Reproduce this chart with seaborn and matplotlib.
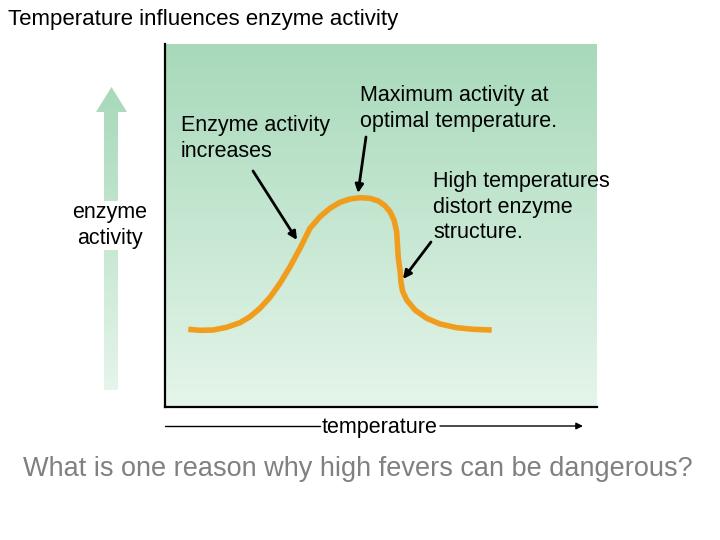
import numpy as np
import pandas as pd
import seaborn as sns
import matplotlib.pyplot as plt
from matplotlib.colors import LinearSegmentedColormap
from matplotlib.patches import Polygon

# curve (temperature / activity, arbitrary 0-100 units)
temperature = [5.39, 8.10, 11.18, 14.28, 17.36, 19.68, 21.99, 24.31, 26.62, 28.94, 31.25, 33.56,
               35.88, 38.19, 40.51, 42.82, 45.14, 47.45, 49.38, 50.93, 52.08, 53.01, 53.63, 53.82,
               54.00, 54.40, 54.63, 54.98, 55.95, 57.87, 60.58, 63.66, 67.52, 71.37, 75.63]
activity = [21.40, 21.13, 21.21, 21.96, 23.22, 24.88, 27.19, 30.22, 34.08, 38.65, 43.72, 49.23,
            52.42, 54.74, 56.39, 57.30, 57.66, 57.49, 56.75, 55.45, 53.80, 51.52, 48.29, 44.63,
            41.05, 37.74, 34.44, 31.96, 29.48, 26.72, 24.44, 22.87, 21.85, 21.40, 21.21]

title = "Temperature influences enzyme activity"
notes = ["Enzyme activity\nincreases",
         "Maximum activity at\noptimal temperature.",
         "High temperatures\ndistort enzyme\nstructure."]
question = "What is one reason why high fevers can be dangerous?"

sns.set_style("white")
plt.rcParams['font.family'] = ['Liberation Sans', 'DejaVu Sans']
plt.rcParams['text.color'] = 'black'

W, H = 720, 540
fs = 15.5
fig = plt.figure(figsize=(7.2, 5.4), dpi=100)

# main panel
ax = fig.add_axes([165 / W, 1 - 407 / H, 432 / W, 363 / H])
green = LinearSegmentedColormap.from_list("g", ["#a7d9ba", "#e5f5ea"])
grad = np.linspace(0, 1, 256).reshape(-1, 1)
ax.imshow(grad, cmap=green, aspect='auto', extent=[0, 100, 0, 100], origin='upper', zorder=0)

df = pd.DataFrame({'temperature': temperature, 'activity': activity})
sns.lineplot(data=df, x='temperature', y='activity', sort=False, color='#f09d1e',
             lw=4, solid_capstyle='butt', solid_joinstyle='round', ax=ax)
ax.set_xlim(0, 100)
ax.set_ylim(0, 100)
ax.set_xticks([])
ax.set_yticks([])
ax.set_xlabel('')
ax.set_ylabel('')
for s in ['top', 'right']:
    ax.spines[s].set_visible(False)
for s in ['left', 'bottom']:
    ax.spines[s].set_color('black')
    ax.spines[s].set_linewidth(1.6)

# overlay in pixel coordinates for labels and arrows
ov = fig.add_axes([0, 0, 1, 1], zorder=5)
ov.set_xlim(0, W)
ov.set_ylim(H, 0)
ov.axis('off')

# green activity arrow on the left
arrow = Polygon([(104, 390), (104, 112), (96, 112), (111.5, 87), (127, 112), (118, 112), (118, 390)],
                closed=True, facecolor='none', edgecolor='none')
ov.add_patch(arrow)
im = ov.imshow(grad, cmap=green, aspect='auto', extent=[90, 130, 390, 87], origin='upper')
im.set_clip_path(arrow)

ov.text(8, 19, title, fontsize=16, va='center', ha='left')
ov.text(110, 225.5, "enzyme\nactivity", fontsize=fs, va='center', ha='center', linespacing=1.3,
        bbox=dict(facecolor='white', edgecolor='none', pad=1))
ov.text(181, 138.5, notes[0], fontsize=fs, va='center', ha='left', linespacing=1.3)
ov.text(360, 108.5, notes[1], fontsize=fs, va='center', ha='left', linespacing=1.3)
ov.text(433, 207, notes[2], fontsize=fs, va='center', ha='left', linespacing=1.3)

aprops = dict(arrowstyle='-|>', color='black', lw=2, mutation_scale=12, shrinkA=0, shrinkB=0)
ov.annotate('', xy=(297, 240), xytext=(253, 171), arrowprops=aprops)
ov.annotate('', xy=(358, 193), xytext=(366, 137), arrowprops=aprops)
ov.annotate('', xy=(403, 279), xytext=(431, 242), arrowprops=aprops)

# temperature axis arrow
ov.plot([165, 320], [426, 426], color='black', lw=1)
ov.annotate('', xy=(583, 426), xytext=(440, 426),
            arrowprops=dict(arrowstyle='-|>', color='black', lw=1, mutation_scale=10,
                            shrinkA=0, shrinkB=0))
ov.text(380, 427, "temperature", fontsize=fs, va='center', ha='center')

ov.text(358, 469, question, fontsize=19.5, va='center', ha='center', color='#808080')

fig.savefig("out.png", dpi=100)
